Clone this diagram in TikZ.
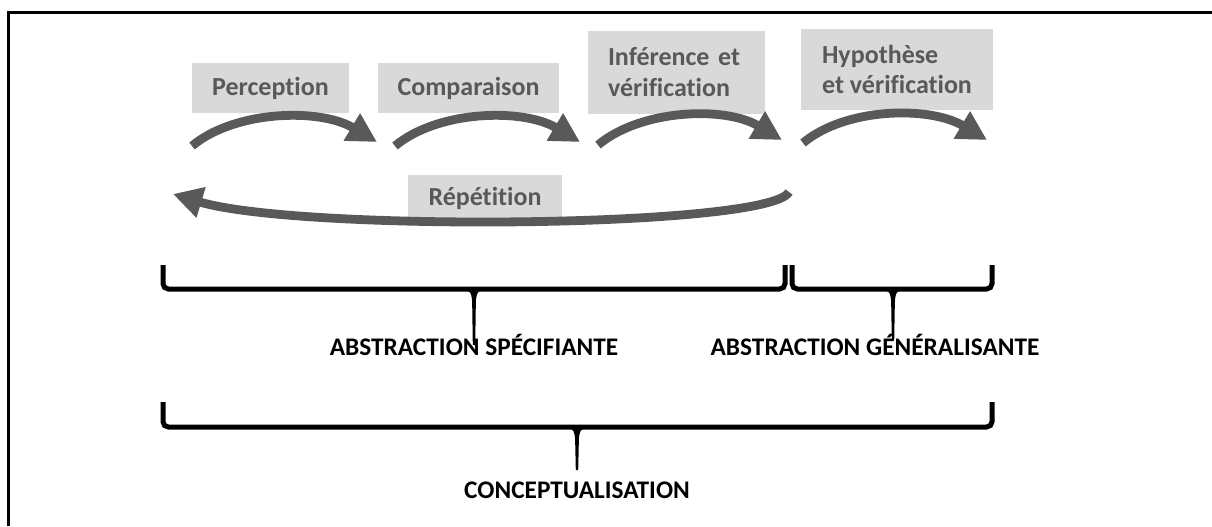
\documentclass[tikz,border=0pt]{standalone}
\usepackage{fontspec}
\setmainfont{Carlito}[Ligatures=NoCommon]
\usetikzlibrary{arrows.meta}
\definecolor{boxgray}{HTML}{D9D9D9}
\definecolor{inkgray}{HTML}{595959}

% brace: left, right, centre, top of the ends, bar, tip of the spike
\newcommand{\stagebrace}[6]{%
  \draw[brace] (#1,#4) -- (#1,#5) -- (#2,#5) -- (#2,#4);
  \fill (#3-13,#5) .. controls (#3-3,#5) and (#3-2,#5+5) .. (#3-1.8,#5+16)
        -- (#3-1.2,#6) -- (#3+1.2,#6) -- (#3+1.8,#5+16)
        .. controls (#3+2,#5+5) and (#3+3,#5) .. (#3+13,#5) -- cycle;
}

\begin{document}
\begin{tikzpicture}[x=0.75pt,y=-0.75pt,
  stage/.style={fill=boxgray, text=inkgray,
    font=\bfseries\fontsize{19.5}{23}\selectfont, inner sep=0pt},
  flow/.style={draw=inkgray, line width=6.6pt,
    -{Triangle[length=22pt,width=22.5pt]}},
  tag/.style={font=\bfseries\fontsize{19}{22}\selectfont, text=black,
    inner sep=0pt, anchor=base},
  brace/.style={line width=3.75pt, rounded corners=4pt}
]
\useasboundingbox (0,0) rectangle (1212,526);

% frame (top and left edges)
\draw[line width=2.25pt] (8,526) -- (8,12) -- (1212,12);

% stages
\node[stage, minimum width=117.75pt, minimum height=37.5pt] (perc) at (270.5,88) {Perception};
\node[stage, minimum width=135.75pt, minimum height=37.5pt] (comp) at (468.5,88) {Comparaison};
\node[stage, text width=102.75pt, inner xsep=15pt, align=left,
      minimum height=62.25pt] (infer) at (676.5,72) {Inférence et\\vérification};
\node[stage, align=left, minimum width=144pt,
      minimum height=60.75pt] (hypo) at (897,69.5) {Hypothèse\\et vérification};
\node[stage, minimum width=115.5pt, minimum height=35.25pt] (rep) at (485,198.5) {Répétition};

% forward arrows
\coordinate (a1s) at (192,146); \coordinate (a1e) at (377,142);
\coordinate (a2s) at (395,146); \coordinate (a2e) at (580,142);
\coordinate (a3s) at (598,145); \coordinate (a3e) at (782,140);
\coordinate (a4s) at (803,143); \coordinate (a4e) at (987,140);
\foreach \s/\e in {a1s/a1e, a2s/a2e, a3s/a3e, a4s/a4e}
  \draw[flow] (\s) .. controls +(43,-36) and +(-57,-34) .. (\e);

% loop back
\coordinate (rs) at (789,192); \coordinate (re) at (173,194);
\draw[flow] (rs) .. controls +(-19,36) and +(127,38) .. (re);

% braces and their labels
\stagebrace{163}{785}{474}{265}{289}{345}
\stagebrace{792}{992}{893}{265}{289}{340}
\stagebrace{163}{992}{577}{402}{427}{470}

\node[tag] (spec) at (474,355) {ABSTRACTION SPÉCIFIANTE};
\node[tag] (gen) at (875,355) {ABSTRACTION GÉNÉRALISANTE};
\node[tag] (concept) at (577,498) {CONCEPTUALISATION};
\end{tikzpicture}
\end{document}
